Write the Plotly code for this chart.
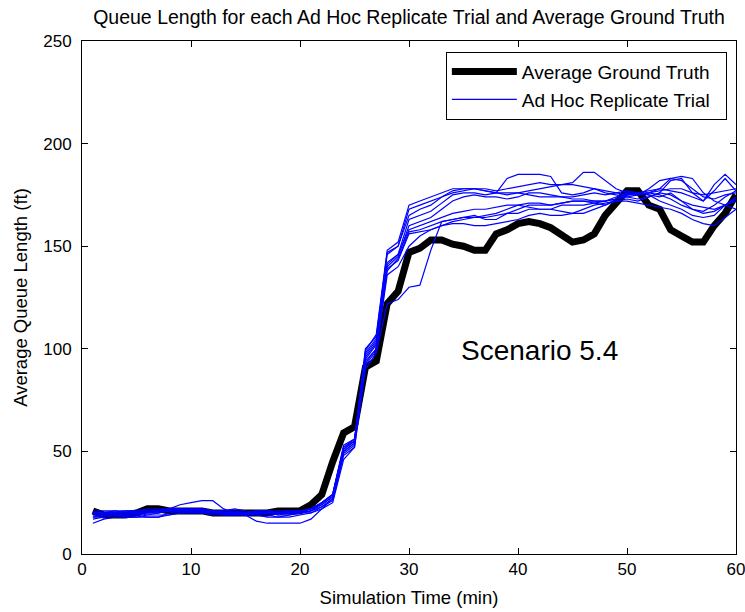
import plotly.graph_objects as go

# Simulation time in minutes (one sample per minute)
time_min = list(range(1, 61))

# Average ground-truth queue length (ft)
ground_truth = [
    21, 19, 19, 19, 20, 22, 22, 21, 21, 21, 21, 20, 20, 20, 20, 20, 20, 21, 21, 21,
    24, 29, 45, 59, 62, 91, 94, 122, 128, 147, 149, 153, 153, 151, 150, 148, 148, 156, 158, 161,
    162, 161, 159, 155, 152, 153, 156, 165, 171, 177, 177, 170, 168, 158, 155, 152, 152, 160, 166, 175,
]

# Ad hoc replicate trials (ft)
trial_01 = [
    20, 20, 20, 20, 21, 21, 21, 22, 24, 25, 26, 26, 22, 20, 20, 21, 21, 20, 20, 21,
    22, 25, 29, 52, 55, 97, 104, 142, 146, 163, 165, 167, 171, 175, 176, 176, 175, 176, 183, 185,
    185, 185, 184, 176, 175, 176, 178, 176, 175, 174, 173, 174, 176, 182, 183, 176, 172, 177, 183, 177,
]
trial_02 = [
    19, 19, 20, 20, 20, 19, 20, 21, 22, 22, 22, 21, 20, 20, 19, 20, 20, 19, 20, 21,
    22, 24, 28, 50, 54, 100, 106, 146, 150, 165, 168, 170, 174, 176, 177, 178, 178, 177, 178, 179,
    180, 181, 180, 180, 181, 186, 186, 182, 178, 176, 175, 176, 178, 177, 176, 174, 172, 180, 185, 180,
]
trial_03 = [
    18, 18, 19, 19, 19, 18, 18, 20, 21, 21, 21, 20, 19, 19, 19, 19, 19, 18, 19, 20,
    21, 23, 27, 49, 53, 95, 102, 140, 145, 160, 162, 164, 168, 172, 174, 175, 174, 174, 173, 174,
    176, 176, 175, 174, 174, 175, 176, 175, 176, 177, 176, 177, 178, 183, 184, 183, 176, 172, 170, 168,
]
trial_04 = [
    21, 21, 21, 20, 20, 20, 20, 21, 21, 21, 21, 20, 20, 20, 20, 21, 21, 21, 21, 21,
    22, 25, 29, 53, 56, 94, 100, 138, 144, 157, 158, 160, 162, 163, 164, 164, 165, 166, 168, 170,
    171, 171, 170, 171, 172, 172, 171, 170, 172, 173, 172, 174, 176, 175, 172, 170, 169, 168, 170, 172,
]
trial_05 = [
    17, 18, 19, 19, 19, 20, 20, 21, 21, 21, 21, 20, 19, 19, 20, 20, 20, 20, 20, 20,
    20, 22, 25, 46, 52, 90, 98, 122, 124, 130, 131, 148, 162, 163, 164, 165, 163, 163, 166, 168,
    170, 170, 170, 171, 172, 172, 172, 172, 173, 175, 176, 175, 174, 176, 172, 168, 167, 170, 174, 177,
]
trial_06 = [
    15, 17, 18, 18, 18, 19, 19, 19, 20, 20, 20, 19, 19, 19, 19, 16, 15, 15, 15, 15,
    17, 22, 27, 50, 54, 93, 100, 139, 143, 156, 157, 158, 160, 161, 161, 160, 160, 161, 162, 163,
    165, 166, 165, 165, 166, 168, 170, 171, 172, 172, 171, 170, 169, 168, 166, 163, 161, 160, 164, 168,
]
trial_07 = [
    19, 19, 19, 18, 18, 18, 18, 19, 20, 20, 20, 20, 21, 22, 21, 20, 20, 20, 20, 20,
    21, 24, 28, 51, 55, 98, 105, 147, 150, 168, 170, 172, 174, 177, 178, 178, 177, 176, 175, 176,
    177, 178, 179, 180, 180, 179, 178, 177, 176, 175, 175, 176, 177, 178, 178, 176, 175, 176, 177, 178,
]
trial_08 = [
    20, 20, 21, 21, 21, 22, 22, 22, 22, 22, 21, 21, 20, 20, 20, 20, 20, 19, 19, 20,
    21, 25, 29, 52, 56, 96, 103, 141, 146, 158, 160, 162, 164, 166, 167, 168, 168, 169, 170, 170,
    169, 168, 168, 170, 170, 170, 171, 172, 174, 176, 176, 175, 172, 170, 168, 165, 164, 165, 170, 174,
]
trial_09 = [
    18, 19, 19, 19, 20, 20, 21, 22, 22, 22, 22, 21, 20, 20, 20, 19, 18, 18, 18, 19,
    20, 23, 26, 48, 52, 92, 99, 136, 140, 150, 155, 158, 160, 162, 163, 164, 164, 165, 166, 166,
    168, 168, 168, 167, 166, 166, 168, 170, 173, 175, 176, 176, 175, 173, 170, 168, 166, 167, 170, 173,
]
trial_10 = [
    20, 20, 20, 21, 21, 21, 21, 21, 22, 22, 22, 21, 21, 21, 20, 20, 20, 20, 21, 21,
    22, 25, 29, 51, 55, 99, 107, 148, 152, 170, 172, 174, 176, 178, 178, 178, 177, 176, 176, 176,
    175, 174, 174, 174, 173, 173, 172, 172, 173, 174, 175, 178, 182, 183, 182, 178, 174, 173, 175, 176,
]
trials = [trial_01, trial_02, trial_03, trial_04, trial_05,
          trial_06, trial_07, trial_08, trial_09, trial_10]

x_ticks = [0, 10, 20, 30, 40, 50, 60]
y_ticks = [0, 50, 100, 150, 200, 250]

FONT = "Liberation Sans, Arial, sans-serif"
PAD = "\u00a0\u00a0"  # trailing space inside the legend box

fig = go.Figure()

fig.add_trace(go.Scatter(
    x=time_min, y=ground_truth, mode="lines",
    name="Average Ground Truth" + PAD,
    line=dict(color="black", width=7),
))

for i, trial in enumerate(trials):
    fig.add_trace(go.Scatter(
        x=time_min, y=trial, mode="lines",
        name="Ad Hoc Replicate Trial" + PAD,
        legendgroup="trials",
        showlegend=(i == 0),
        line=dict(color="#0000ff", width=1.2),
    ))

fig.add_annotation(
    x=42.0, y=99, xref="x", yref="y",
    text="Scenario 5.4", showarrow=False,
    font=dict(family=FONT, size=28, color="black"),
)

axis_common = dict(
    showgrid=False, zeroline=False,
    showline=True, linecolor="black", linewidth=1,
    mirror="ticks", ticks="inside", ticklen=6, tickcolor="black",
    tickfont=dict(family=FONT, size=17, color="black"),
    ticklabeloverflow="allow",
    automargin=False,
)

fig.update_layout(
    width=745, height=612,
    margin=dict(l=82, r=9, t=41, b=58),
    paper_bgcolor="white", plot_bgcolor="white",
    title=dict(
        text="Queue Length for each Ad Hoc Replicate Trial and Average Ground Truth",
        x=0.5, xref="paper", xanchor="center",
        y=1 - 17 / 612, yref="container", yanchor="middle",
        font=dict(family=FONT, size=19.5, color="black"),
    ),
    xaxis=dict(
        range=[0, 60], tickvals=x_ticks,
        title=dict(text="Simulation Time (min)", standoff=12,
                   font=dict(family=FONT, size=18.5, color="black")),
        **axis_common,
    ),
    yaxis=dict(
        range=[0, 250], tickvals=y_ticks,
        ticklabelstandoff=6,
        title=dict(text="Average Queue Length (ft)", standoff=10,
                   font=dict(family=FONT, size=18.5, color="black")),
        **axis_common,
    ),
    legend=dict(
        x=0.986, y=0.979, xanchor="right", yanchor="top",
        bgcolor="white", bordercolor="black", borderwidth=1,
        font=dict(family=FONT, size=19, color="black"),
        itemwidth=65,
        tracegroupgap=0,
    ),
    showlegend=True,
)

fig.write_html("out.html")
